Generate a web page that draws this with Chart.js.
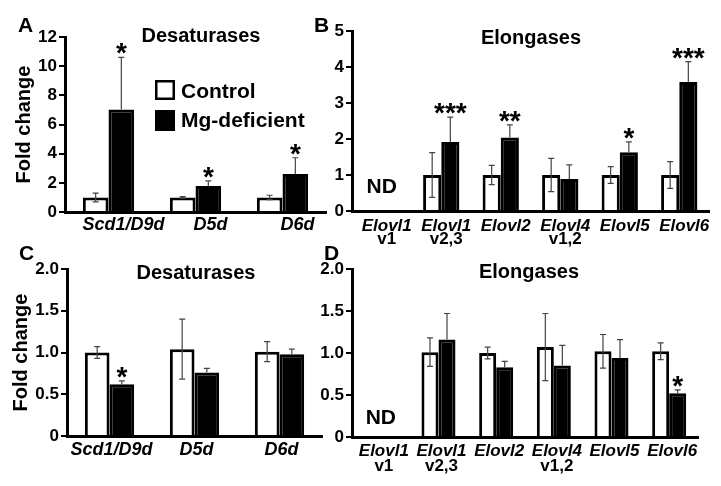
<!DOCTYPE html>
<html>
<head>
<meta charset="utf-8">
<title>Desaturases and elongases</title>
<script src="https://cdn.jsdelivr.net/npm/chart.js@4.4.1/dist/chart.umd.min.js"></script>
<style>
  body { margin: 0; background: #fff; }
  #wrap { position: relative; width: 721px; height: 486px; overflow: hidden; font-family: "Liberation Sans", Arial, sans-serif; }
  #wrap canvas { position: absolute; }
  .txt { position: absolute; font-weight: bold; line-height: 1; color: #000; white-space: nowrap; }
  .ttl { font-size: 20px; width: 200px; text-align: center; }
  .let { font-size: 21px; }
</style>
</head>
<body>
<div id="wrap">
  <canvas id="chartA" width="340" height="240" style="left:0;top:0"></canvas>
  <canvas id="chartB" width="421" height="250" style="left:300px;top:0"></canvas>
  <canvas id="chartC" width="340" height="246" style="left:0;top:240px"></canvas>
  <canvas id="chartD" width="421" height="246" style="left:300px;top:240px"></canvas>

  <div class="txt let" style="left:18px;top:14px">A</div>
  <div class="txt let" style="left:314px;top:14px">B</div>
  <div class="txt let" style="left:19px;top:242px">C</div>
  <div class="txt let" style="left:324px;top:242px">D</div>

  <div class="txt ttl" style="left:101px;top:25px">Desaturases</div>
  <div class="txt ttl" style="left:431px;top:27px">Elongases</div>
  <div class="txt ttl" style="left:96px;top:262px">Desaturases</div>
  <div class="txt ttl" style="left:429px;top:261px">Elongases</div>
</div>

<script>
Chart.defaults.font.family = '"Liberation Sans", Arial, sans-serif';
Chart.defaults.color = '#000';

// ---- data ----
const seriesNames = ['Control', 'Mg-deficient'];
const desatGenes = ['Scd1/D9d', 'D5d', 'D6d'];
const elongGenes = ['Elovl1', 'Elovl1', 'Elovl2', 'Elovl4', 'Elovl5', 'Elovl6'];
const elongVariants = ['v1', 'v2,3', '', 'v1,2', '', ''];

// A: desaturases (top)
const ticksA = [0, 2, 4, 6, 8, 10, 12];
const tickLabelsA = ['0', '2', '4', '6', '8', '10', '12'];
const ctrlA = [1.0, 1.0, 1.0];
const ctrlErrA = [0.3, 0.05, 0.15];
const mgA = [7.03, 1.78, 2.6];
const mgErrA = [3.57, 0.35, 1.12];
const starsA = ['*', '*', '*'];

// B: elongases (top)
const ticksB = [0, 1, 2, 3, 4, 5];
const tickLabelsB = ['0', '1', '2', '3', '4', '5'];
const ctrlB = [null, 1.0, 1.0, 1.0, 1.0, 1.0];
const ctrlErrB = [0, 0.62, 0.27, 0.46, 0.23, 0.37];
const mgB = [null, 1.92, 2.04, 0.89, 1.63, 3.58];
const mgErrB = [0, 0.69, 0.35, 0.39, 0.29, 0.57];
const starsB = ['', '***', '**', '', '*', '***'];
const ndB = ['ND', '', '', '', '', ''];

// C: desaturases (bottom)
const ticksC = [0, 0.5, 1, 1.5, 2];
const tickLabelsC = ['0', '0.5', '1.0', '1.5', '2.0'];
const ctrlC = [1.0, 1.04, 1.01];
const ctrlErrC = [0.07, 0.36, 0.12];
const mgC = [0.62, 0.76, 0.98];
const mgErrC = [0.04, 0.05, 0.06];
const starsC = ['*', '', ''];

// D: elongases (bottom)
const ticksD = [0, 0.5, 1, 1.5, 2];
const tickLabelsD = ['0', '0.5', '1.0', '1.5', '2.0'];
const ctrlD = [null, 1.01, 1.0, 1.07, 1.02, 1.02];
const ctrlErrD = [0, 0.17, 0.07, 0.4, 0.2, 0.1];
const mgD = [null, 1.16, 0.83, 0.85, 0.94, 0.52];
const mgErrD = [0, 0.31, 0.07, 0.24, 0.22, 0.04];
const starsD = ['', '', '', '', '', '*'];
const ndD = ['ND', '', '', '', '', ''];

const FONT = '"Liberation Sans", Arial, sans-serif';

// error bars, stars, ND marks, second label line and the legend
const extrasPlugin = {
  id: 'extras',
  afterDatasetsDraw(chart, args, opts) {
    const ctx = chart.ctx;
    const xs = chart.scales.x, ys = chart.scales.y;
    const area = chart.chartArea;
    ctx.save();
    chart.data.datasets.forEach((ds, di) => {
      const meta = chart.getDatasetMeta(di);
      ds.data.forEach((v, i) => {
        if (v == null) return;
        const bx = meta.data[i].x;
        const sd = ds.err[i];
        const top = ys.getPixelForValue(v + sd);
        const bot = ds.errBoth ? ys.getPixelForValue(v - sd) : ys.getPixelForValue(v);
        ctx.strokeStyle = '#444';
        ctx.lineWidth = 1.2;
        ctx.beginPath();
        ctx.moveTo(bx, top); ctx.lineTo(bx, bot);
        ctx.moveTo(bx - 3, top); ctx.lineTo(bx + 3, top);
        if (ds.errBoth) { ctx.moveTo(bx - 3, bot); ctx.lineTo(bx + 3, bot); }
        ctx.stroke();
        if (ds.stars && ds.stars[i]) {
          ctx.fillStyle = '#000';
          ctx.font = 'bold 28px ' + FONT;
          ctx.textAlign = 'center';
          ctx.textBaseline = 'alphabetic';
          ctx.fillText(ds.stars[i], bx, top + 5);
        }
      });
    });
    ctx.fillStyle = '#000';
    ctx.textAlign = 'center';
    ctx.textBaseline = 'alphabetic';
    if (opts.nd) {
      ctx.font = 'bold 21px ' + FONT;
      opts.nd.forEach((t, i) => {
        if (t) ctx.fillText(t, xs.getPixelForValue(i), area.bottom - opts.ndLift);
      });
    }
    if (opts.line2) {
      ctx.font = 'bold 17px ' + FONT;
      opts.line2.forEach((t, i) => {
        if (t) ctx.fillText(t, xs.getPixelForTick(i) + opts.labelOffset, area.bottom + opts.line2Offset);
      });
    }
    if (opts.legend) {
      const lg = opts.legend;
      ctx.textAlign = 'left';
      ctx.font = 'bold 21px ' + FONT;
      chart.data.datasets.forEach((ds, di) => {
        const row = lg.rows[di];
        ctx.fillStyle = ds.backgroundColor;
        ctx.fillRect(lg.x, row.y, 20, row.h);
        ctx.strokeStyle = '#000';
        ctx.lineWidth = 2.5;
        ctx.strokeRect(lg.x + 1.25, row.y + 1.25, 17.5, row.h - 2.5);
        ctx.fillStyle = '#000';
        ctx.fillText(ds.label, lg.x + 26, row.base);
      });
    }
    ctx.restore();
  }
};

function makePanel(id, p) {
  return new Chart(document.getElementById(id), {
    type: 'bar',
    data: {
      labels: p.labels,
      datasets: [
        { label: seriesNames[0], data: p.ctrl, err: p.ctrlErr, errBoth: true,
          backgroundColor: '#fff', borderColor: '#000', borderWidth: 3 },
        { label: seriesNames[1], data: p.mg, err: p.mgErr, errBoth: false, stars: p.stars,
          backgroundColor: '#000', borderColor: '#000', borderWidth: 3 }
      ]
    },
    options: {
      responsive: false,
      animation: false,
      layout: { padding: { top: p.top, right: p.right, left: 0, bottom: 0 } },
      datasets: { bar: { categoryPercentage: p.catPct, barPercentage: 1 } },
      plugins: {
        legend: { display: false },
        tooltip: { enabled: false },
        extras: p.extras
      },
      scales: {
        x: {
          grid: { display: false },
          border: { display: true, color: '#000', width: 3 },
          ticks: {
            font: { size: p.xFont, weight: 'bold', style: 'italic' },
            padding: p.xPad,
            labelOffset: p.labelOffset,
            maxRotation: 0,
            autoSkip: false
          },
          afterFit: s => { s.height = p.xHeight; }
        },
        y: {
          min: 0,
          max: p.ticks[p.ticks.length - 1],
          afterBuildTicks: s => { s.ticks = p.ticks.map(v => ({ value: v })); },
          ticks: {
            callback: (v, i) => p.tickLabels[i],
            font: { size: 17, weight: 'bold' },
            padding: 2
          },
          grid: { drawOnChartArea: false, drawTicks: true, tickLength: 6, lineWidth: 2, color: '#000' },
          border: { display: true, color: '#000', width: 3 },
          title: p.yTitle
            ? { display: true, text: 'Fold change', font: { size: 20, weight: 'bold' }, padding: { top: p.yTitlePad, bottom: 0 } }
            : { display: false },
          afterFit: s => { s.width = p.left; }
        }
      }
    },
    plugins: [extrasPlugin]
  });
}

makePanel('chartA', {
  labels: desatGenes, ctrl: ctrlA, ctrlErr: ctrlErrA, mg: mgA, mgErr: mgErrA, stars: starsA,
  ticks: ticksA, tickLabels: tickLabelsA,
  top: 37, right: 14, left: 65, xHeight: 28, catPct: 0.59,
  xFont: 18, xPad: -6, labelOffset: 15, yTitle: true, yTitlePad: 12,
  extras: { legend: { x: 155, rows: [{ y: 80, h: 20, base: 98 }, { y: 110, h: 21, base: 127 }] } }
});

makePanel('chartB', {
  labels: elongGenes, ctrl: ctrlB, ctrlErr: ctrlErrB, mg: mgB, mgErr: mgErrB, stars: starsB,
  ticks: ticksB, tickLabels: tickLabelsB,
  top: 31, right: 12, left: 52, xHeight: 39, catPct: 0.61,
  xFont: 17, xPad: -3, labelOffset: 5, yTitle: false,
  extras: { nd: ndB, ndLift: 18, line2: elongVariants, line2Offset: 33, labelOffset: 5 }
});

makePanel('chartC', {
  labels: desatGenes, ctrl: ctrlC, ctrlErr: ctrlErrC, mg: mgC, mgErr: mgErrC, stars: starsC,
  ticks: ticksC, tickLabels: tickLabelsC,
  top: 29, right: 18, left: 67, xHeight: 50, catPct: 0.58,
  xFont: 18, xPad: -5, labelOffset: 2, yTitle: true, yTitlePad: 9,
  extras: {}
});

makePanel('chartD', {
  labels: elongGenes, ctrl: ctrlD, ctrlErr: ctrlErrD, mg: mgD, mgErr: mgErrD, stars: starsD,
  ticks: ticksD, tickLabels: tickLabelsD,
  top: 29, right: 23, left: 52, xHeight: 49, catPct: 0.59,
  xFont: 17, xPad: -4, labelOffset: 3, yTitle: false,
  extras: { nd: ndD, ndLift: 13, line2: elongVariants, line2Offset: 34, labelOffset: 3 }
});
</script>
</body>
</html>
